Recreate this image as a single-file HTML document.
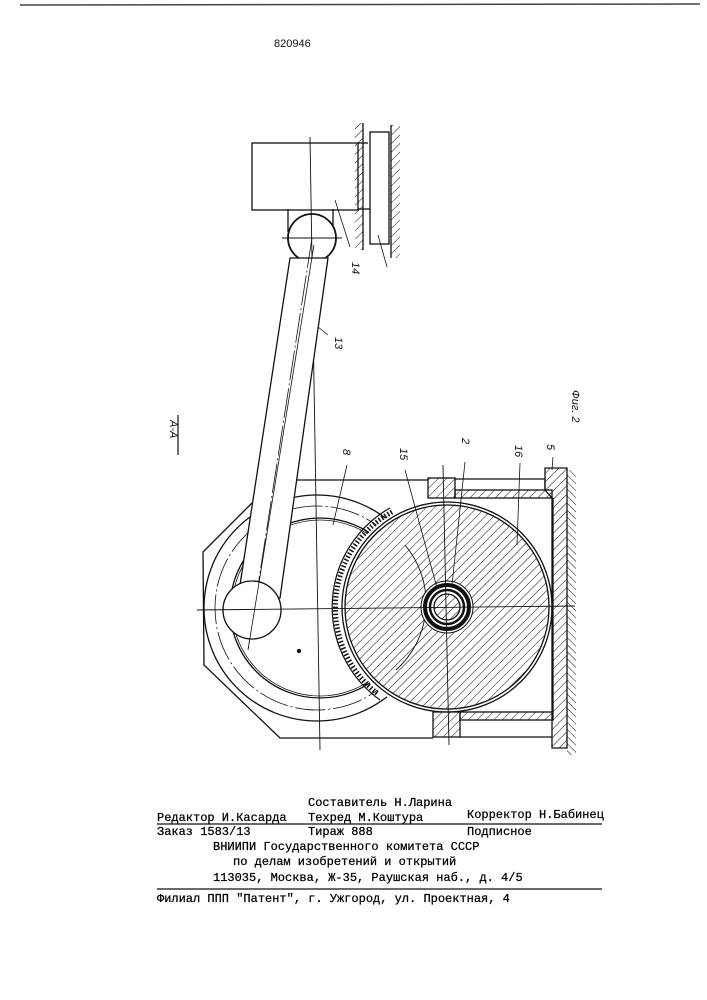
<!DOCTYPE html>
<html><head><meta charset="utf-8"><style>
html,body{margin:0;padding:0;background:#fff;}
svg{display:block;}
.t{font-family:"Liberation Mono",monospace;font-size:12px;fill:#000;stroke:#000;stroke-width:0.25;}
.l{font-family:"Liberation Sans",sans-serif;font-size:11px;font-style:italic;fill:#111;}
</style></head><body>
<svg width="707" height="1000" viewBox="0 0 707 1000" xmlns="http://www.w3.org/2000/svg">
<defs>
<pattern id="h" width="6" height="6" patternUnits="userSpaceOnUse" patternTransform="rotate(45)">
<line x1="0" y1="0" x2="0" y2="6" stroke="#111" stroke-width="1"/></pattern>
<pattern id="h2" width="5" height="5" patternUnits="userSpaceOnUse" patternTransform="rotate(-45)">
<line x1="0" y1="0" x2="0" y2="5" stroke="#111" stroke-width="1"/></pattern>
</defs>
<line x1="20" y1="5" x2="700" y2="4" stroke="#444" stroke-width="1.5"/>
<text x="274" y="47" style="font-family:'Liberation Sans',sans-serif;font-size:11px;fill:#111">820946</text>

<g fill="none" stroke="#111" stroke-width="1.3">
<rect x="252" y="143" width="106" height="67"/>
<line x1="358" y1="143" x2="368" y2="143"/>
<line x1="358" y1="209" x2="370" y2="209"/>
<line x1="363" y1="123" x2="363" y2="250"/>
<rect x="355" y="123" width="8" height="127" fill="url(#h)" stroke="none"/>
<rect x="370" y="132" width="19" height="112"/>
<line x1="391" y1="125" x2="391" y2="258"/>
<rect x="391" y="125" width="9" height="133" fill="url(#h)" stroke="none"/>
<line x1="288" y1="209" x2="288" y2="232"/>
<line x1="333" y1="209" x2="333" y2="232"/>
<circle cx="312" cy="238" r="24" stroke-width="1.8" fill="#fff"/>
<line x1="282" y1="238" x2="342" y2="238" stroke-width="0.9"/>
<line x1="310" y1="137" x2="320" y2="750" stroke-width="0.9"/>
<line x1="335" y1="200" x2="350" y2="247" stroke-width="0.8"/>
<line x1="378" y1="235" x2="387" y2="267" stroke-width="0.8"/>
<line x1="307" y1="318" x2="328" y2="335" stroke-width="0.8"/>

<polyline points="293,480 428,480"/>
<polyline points="252,503 203,552 204,665 280,738 433,738"/>
<circle cx="317" cy="608" r="113"/>
<circle cx="317" cy="608" r="102" stroke-width="0.8" stroke-dasharray="30,3,2,3"/>
<circle cx="320" cy="608" r="90"/>
<circle cx="320" cy="608" r="88" stroke-width="0.8"/>
<circle cx="299" cy="651" r="1.5" fill="#111"/>
<polygon points="290,258 328,258 280,598 238,598" fill="#fff"/>
<line x1="312" y1="238" x2="248" y2="650" stroke-width="0.8" stroke-dasharray="30,3,2,3"/>
<circle cx="252" cy="610" r="29" fill="#fff"/>
<line x1="314" y1="245" x2="248" y2="650" stroke-width="0.8"/>

<circle cx="447" cy="607" r="108" fill="#fff" stroke="none"/>
<path d="M 390,508 A 114 114 0 0 0 380,700" stroke-width="1.2"/>
<path d="M 392,512 A 109 109 0 0 0 378,694" stroke-width="5" stroke-dasharray="1.5,2"/>
<circle cx="447" cy="607" r="105"/>
<circle cx="447" cy="607" r="102" fill="url(#h)"/>
<path d="M 405,545 A 90 90 0 0 1 396,670" stroke-width="0.9"/>
<circle cx="447" cy="607" r="26" fill="#fff" stroke-width="1"/>
<circle cx="447" cy="607" r="22" stroke-width="4"/>
<circle cx="447" cy="607" r="17" stroke-width="2.5"/>
<circle cx="447" cy="607" r="13" fill="url(#h)"/>

<rect x="428" y="478" width="27" height="20" fill="url(#h)"/>
<rect x="455" y="490" width="97" height="8" fill="url(#h)"/>
<polyline points="455,479 545,479 545,490"/>
<polygon points="545,468 567,468 567,748 552,748 552,498 545,490" fill="url(#h)"/>
<rect x="567" y="470" width="9" height="285" fill="url(#h2)" stroke="none"/>
<line x1="553" y1="498" x2="553" y2="712"/>
<rect x="460" y="712" width="93" height="8" fill="url(#h)"/>
<rect x="433" y="712" width="27" height="25" fill="url(#h)"/>
<polyline points="460,737 552,737"/>

<line x1="197" y1="610" x2="575" y2="606" stroke-width="0.9"/>
<line x1="443" y1="465" x2="449" y2="745" stroke-width="0.9"/>

<line x1="347" y1="465" x2="333" y2="525" stroke-width="0.8"/>
<line x1="405" y1="470" x2="437" y2="588" stroke-width="0.8"/>
<line x1="465" y1="462" x2="452" y2="585" stroke-width="0.8"/>
<line x1="520" y1="463" x2="517" y2="545" stroke-width="0.8"/>
<line x1="553" y1="457" x2="552" y2="470" stroke-width="0.8"/>
<line x1="178" y1="415" x2="178" y2="455" stroke-width="1.2"/>
</g>

<text class="l" transform="translate(352,262) rotate(90)">14</text>
<text class="l" transform="translate(335,337) rotate(90)">13</text>
<text class="l" transform="translate(170,420) rotate(90)">А-А</text>
<text class="l" transform="translate(572,390) rotate(90)">Фиг. 2</text>
<text class="l" transform="translate(343,449) rotate(90)">8</text>
<text class="l" transform="translate(400,448) rotate(90)">15</text>
<text class="l" transform="translate(462,438) rotate(90)">2</text>
<text class="l" transform="translate(515,445) rotate(90)">16</text>
<text class="l" transform="translate(547,444) rotate(90)">5</text>

<text class="t" x="308" y="806">Составитель Н.Ларина</text>
<text class="t" x="157" y="821">Редактор И.Касарда</text>
<text class="t" x="308" y="821">Техред М.Коштура</text>
<text class="t" x="467" y="818">Корректор Н.Бабинец</text>
<line x1="157" y1="824" x2="602" y2="824" stroke="#111" stroke-width="1.2"/>
<text class="t" x="157" y="835">Заказ 1583/13</text>
<text class="t" x="308" y="835">Тираж 888</text>
<text class="t" x="467" y="835">Подписное</text>
<text class="t" x="213" y="850">ВНИИПИ Государственного комитета СССР</text>
<text class="t" x="233" y="865">по делам изобретений и открытий</text>
<text class="t" x="213" y="881">113035, Москва, Ж-35, Раушская наб., д. 4/5</text>
<line x1="157" y1="889" x2="602" y2="889" stroke="#111" stroke-width="1.2"/>
<text class="t" x="157" y="902">Филиал ППП "Патент", г. Ужгород, ул. Проектная, 4</text>
</svg>
</body></html>
